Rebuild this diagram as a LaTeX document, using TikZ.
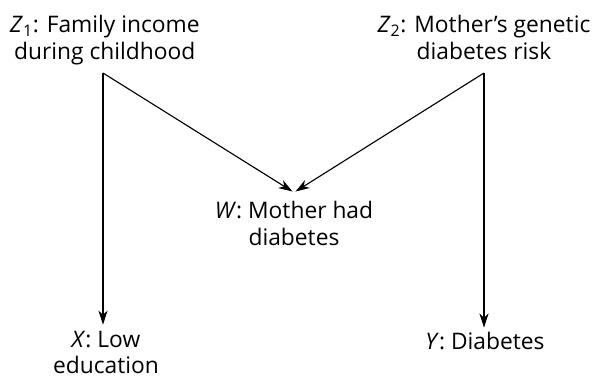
\documentclass[tikz,border=0pt]{standalone}
\usepackage{fontspec}
\setmainfont{Open Sans}
\usetikzlibrary{arrows.meta}

\tikzstyle{var}=[align=center,inner sep=7pt,font=\fontsize{16.2}{19.2}\selectfont]
\tikzstyle{arr}=[draw=black,line width=0.8pt,-{Stealth[length=10pt,width=6.5pt,inset=3pt]}]

\begin{document}
\begin{tikzpicture}

   \useasboundingbox (0,0) rectangle (14.95,9.45);

   \node[var,anchor=base] (z1) at (2.62,7.95) {\textit{Z}\textsubscript{1}: Family income\\during childhood};
   \node[var,anchor=base] (z2) at (12.1,7.95) {\textit{Z}\textsubscript{2}: Mother's genetic\\diabetes risk};
   \node[var,anchor=base] (w) at (7.35,3.3) {\textit{W}: Mother had\\diabetes};
   \node[var,anchor=base] (x) at (2.65,0.1) {\textit{X}: Low\\education};
   \node[var,anchor=base] (y) at (12.125,0.7) {\textit{Y}: Diabetes};

   \coordinate (z1c) at (2.575,7.625);
   \coordinate (z2c) at (12.1,7.625);

   \draw[arr] (z1c) -- ([yshift=-0.1cm]z1c |- x.north);
   \draw[arr] (z1c) -- ([xshift=-1pt]w.north);
   \draw[arr] (z2c) -- ([yshift=-0.125cm]z2c |- y.north);
   \draw[arr] (z2c) -- ([xshift=1pt]w.north);

\end{tikzpicture}
\end{document}
